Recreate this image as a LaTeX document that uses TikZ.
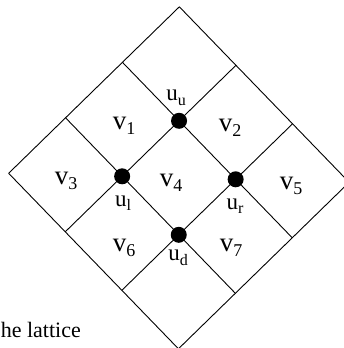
\documentclass[tikz,border=0pt]{standalone}
\usepackage{fontspec}
\setmainfont{Liberation Serif}
\newcommand{\vsub}[1]{\raisebox{-5pt}{\fontsize{18}{20}\selectfont #1}}
\newcommand{\usub}[1]{\raisebox{-4.5pt}{\fontsize{16}{18}\selectfont #1}}
\begin{document}
\begin{tikzpicture}[x=1pt,y=-1pt,
  gridline/.style={line width=0.9pt,line join=miter},
  vertexdot/.style={circle,fill=black,minimum size=16pt,inner sep=0pt},
  vlab/.style={font=\fontsize{27}{30}\selectfont,inner sep=0pt},
  ulab/.style={font=\fontsize{23}{26}\selectfont,inner sep=0pt},
  caption/.style={font=\fontsize{22}{26}\selectfont,inner sep=0pt}]
\useasboundingbox (0,0) rectangle (344,348);
\clip (0,0) rectangle (344,348);
\begin{scope}[shift={(178.9,177.8)},x={(56.9pt,55.5pt)},y={(56.6pt,-58.5pt)}]
  \foreach \i in {-1.5,-0.5,0.5,1.5} {
    \draw[gridline] (\i,-1.5) -- (\i,1.5);
    \draw[gridline] (-1.5,\i) -- (1.5,\i);
  }
  \node[vertexdot] (uu) at (0.5,-0.5) {};
  \node[vertexdot] (ul) at (-0.5,-0.5) {};
  \node[vertexdot] (ur) at (0.5,0.5) {};
  \node[vertexdot] (ud) at (-0.5,0.5) {};
\end{scope}
\node[vlab] (v1) at (124,126) {v\vsub{1}};
\node[vlab] (v2) at (230,128) {v\vsub{2}};
\node[vlab] (v3) at (66,181) {v\vsub{3}};
\node[vlab] (v4) at (171,183) {v\vsub{4}};
\node[vlab] (v5) at (291,186) {v\vsub{5}};
\node[vlab] (v6) at (124,248) {v\vsub{6}};
\node[vlab] (v7) at (231,248) {v\vsub{7}};
\node[ulab] (luu) at (176,98) {u\usub{u}};
\node[ulab] (lul) at (123,203) {u\usub{l}};
\node[ulab] (lur) at (235,206) {u\usub{r}};
\node[ulab] (lud) at (178,258) {u\usub{d}};
\node[caption,anchor=base east] (cap) at (81,337) {he lattice};
\end{tikzpicture}
\end{document}
